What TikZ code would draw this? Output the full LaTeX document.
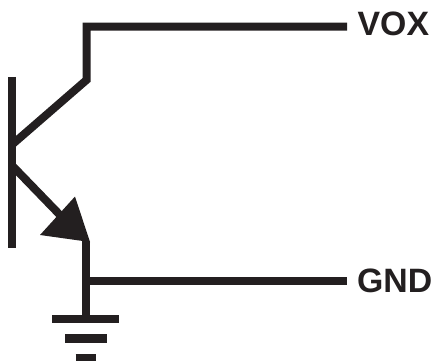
\documentclass[tikz,border=0pt]{standalone}
\usepackage{fontspec}
\setmainfont{Liberation Sans}
\definecolor{ink}{HTML}{231F20}
\tikzset{
  wire/.style={draw=ink,line width=8pt,line cap=butt,line join=miter},
  lab/.style={text=ink,font=\fontsize{33.8}{36}\selectfont\bfseries,anchor=base west,inner sep=0pt},
}
\begin{document}
\begin{tikzpicture}[x=1pt,y=-1pt]
\useasboundingbox (0,0) rectangle (434,361);
\node[lab] (vox) at (357.5,36) {VOX};
\node[lab] (gnd) at (357,292) {GND};
\coordinate (basetop) at (11.6,77);
\coordinate (basebot) at (11.6,247.5);
\coordinate (cb) at (11.6,145);
\coordinate (ck) at (86.5,80);
\coordinate (ct) at (86.5,26.7);
\coordinate (vend) at (347,26.7);
\coordinate (eb) at (11.6,165);
\coordinate (tip) at (90,242);
\coordinate (a1) at (75,196.5);
\coordinate (a2) at (40,235);
\coordinate (ej) at (86,241);
\coordinate (g1c) at (86,315.5);
\coordinate (gj) at (86,280.7);
\coordinate (gend) at (347,280.7);
\draw[wire] (basetop) -- (basebot);
\draw[wire] (cb) -- (ck) -- (ct) -- (vend);
\draw[wire] (eb) -- (60,215);
\fill[ink] (tip) -- (a1) -- (a2) -- cycle;
\draw[wire] (ej) -- (g1c);
\draw[wire] (gj) -- (gend);
\draw[wire,line width=8.4pt] (52,319.2) -- (118.5,319.2);
\draw[wire,line width=8.4pt] (65,338.4) -- (106.5,338.4);
\draw[wire,line width=8.4pt] (75.5,358) -- (95.5,358);
\end{tikzpicture}
\end{document}
